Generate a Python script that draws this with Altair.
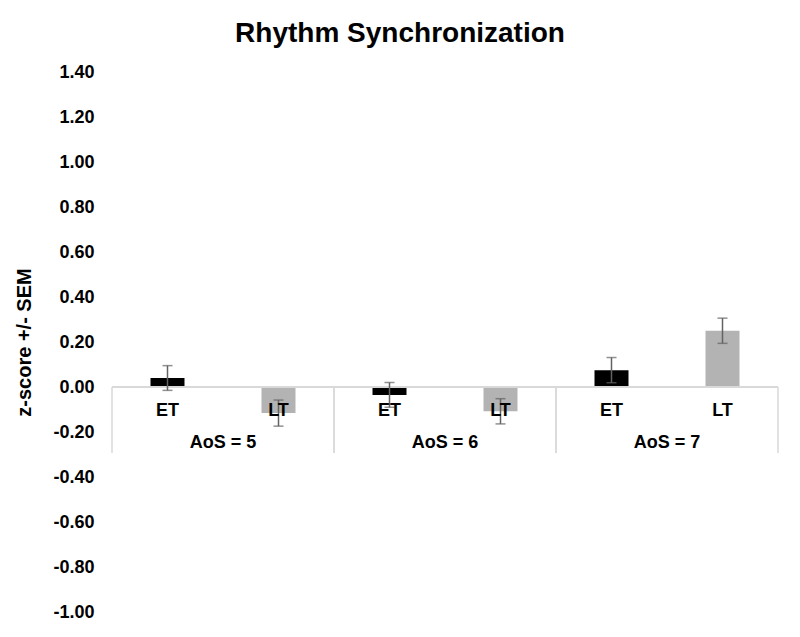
import altair as alt
import pandas as pd

# ---- data ----
groups = ["AoS = 5", "AoS = 6", "AoS = 7"]
series = ["ET", "LT"]
et_mean = [0.04, -0.035, 0.075]
et_sem = [0.055, 0.055, 0.056]
lt_mean = [-0.116, -0.108, 0.25]
lt_sem = [0.058, 0.056, 0.056]
y_ticks = [-1.0, -0.8, -0.6, -0.4, -0.2, 0.0, 0.2, 0.4, 0.6, 0.8, 1.0, 1.2, 1.4]

rows = []
for g, em, es, lm, ls in zip(groups, et_mean, et_sem, lt_mean, lt_sem):
    rows.append({"group": g, "series": "ET", "key": g + "|ET", "mean": em, "sem": es})
    rows.append({"group": g, "series": "LT", "key": g + "|LT", "mean": lm, "sem": ls})
df = pd.DataFrame(rows)
df["lo"] = df["mean"] - df["sem"]
df["hi"] = df["mean"] + df["sem"]
df["zero"] = 0.0
keys = list(df["key"])

gdf = pd.DataFrame({"group": groups,
                    "etkey": [g + "|ET" for g in groups],
                    "ltkey": [g + "|LT" for g in groups]})
gdf["zero"] = 0.0
gdf["sepb"] = -0.293

FONT = "Liberation Sans"
HALF_STEP = 55.5
GRID = "#d9d9d9"
ERR = "#636363"

xscale = alt.Scale(domain=keys, paddingInner=0.6937, paddingOuter=0.34685)
yscale = alt.Scale(domain=[-1.0, 1.4], nice=False, zero=False)

base = alt.Chart(df)

bars = base.mark_bar().encode(
    x=alt.X("key:N", scale=xscale, axis=None),
    y=alt.Y("mean:Q", scale=yscale,
            axis=alt.Axis(values=y_ticks, grid=False, domain=False, ticks=False,
                          tickSize=0, labelPadding=18,
                          labelExpr="(datum.value < -0.0001 ? '-' : '') + format(abs(datum.value), '.2f')",
                          labelFont=FONT, labelFontSize=18, labelFontWeight="bold",
                          labelColor="#000000",
                          title="z-score +/- SEM", titleFont=FONT, titleFontSize=20,
                          titleFontWeight="bold", titleColor="#000000", titlePadding=18)),
    y2="zero:Q",
    color=alt.Color("series:N", scale=alt.Scale(domain=series, range=["#000000", "#b3b3b3"]),
                    legend=None),
)

zero_line = base.mark_rule(color=GRID, strokeWidth=1.5).encode(y="zero:Q")

sep_left = alt.Chart(gdf).mark_rule(color=GRID, strokeWidth=1.5, xOffset=-HALF_STEP).encode(
    x=alt.X("etkey:N"), y="zero:Q", y2="sepb:Q")
sep_right = alt.Chart(gdf).mark_rule(color=GRID, strokeWidth=1.5, xOffset=HALF_STEP).encode(
    x=alt.X("ltkey:N"), y="zero:Q", y2="sepb:Q")

err_rule = base.mark_rule(color=ERR, strokeWidth=1.5).encode(
    x="key:N", y="lo:Q", y2="hi:Q")
err_lo = base.mark_tick(color=ERR, thickness=1.5, size=10).encode(x="key:N", y="lo:Q")
err_hi = base.mark_tick(color=ERR, thickness=1.5, size=10).encode(x="key:N", y="hi:Q")

series_labels = base.mark_text(font=FONT, fontSize=18, fontWeight="bold",
                               color="#000000", baseline="alphabetic", dy=29).encode(
    x="key:N", y="zero:Q", text="series:N")

group_labels = alt.Chart(gdf).mark_text(font=FONT, fontSize=18, fontWeight="bold",
                                        color="#000000", baseline="alphabetic",
                                        dy=61, dx=HALF_STEP).encode(
    x="etkey:N", y="zero:Q", text="group:N")

chart = alt.layer(
    bars, zero_line, sep_left, sep_right, err_rule, err_lo, err_hi,
    series_labels, group_labels
).properties(
    width=666, height=540,
    autosize=alt.AutoSizeParams(type="none"),
    padding={"left": 104, "top": 64, "right": 14, "bottom": 17},
    title=alt.TitleParams("Rhythm Synchronization", font=FONT, fontSize=28,
                          fontWeight="bold", color="#000000", anchor="middle",
                          dx=-45, offset=15),
).configure_view(stroke=None)

chart.save("out.html", embed_options={"renderer": "svg", "actions": False})
